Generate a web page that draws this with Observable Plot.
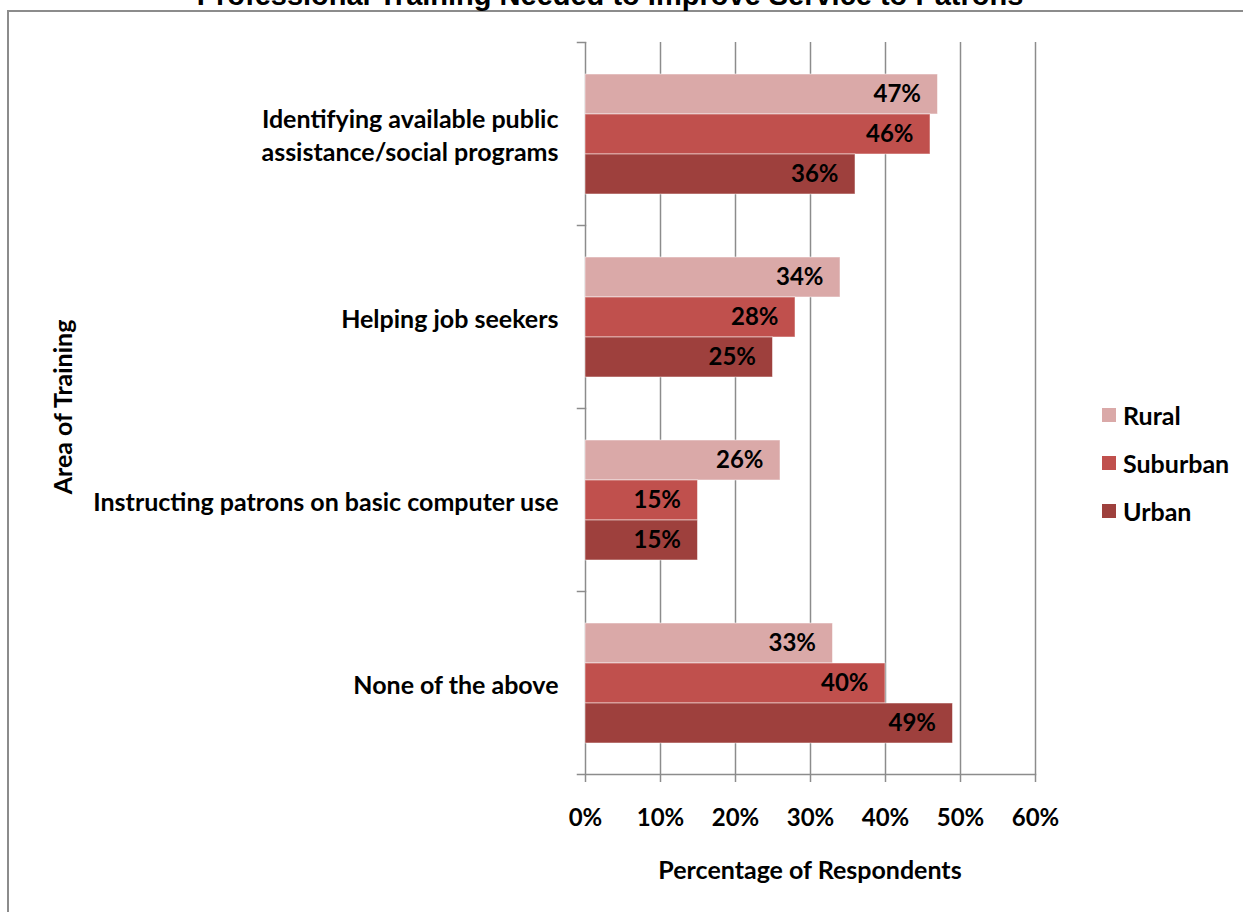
<!DOCTYPE html>
<html><head><meta charset="utf-8">
<script src="https://cdn.jsdelivr.net/npm/d3@7"></script>
<script src="https://cdn.jsdelivr.net/npm/@observablehq/plot@0.6"></script>
<style>
body{margin:0;background:#fff;}
#wrap{position:relative;width:1243px;height:912px;overflow:hidden;background:#fff;}
#frame{position:absolute;left:7px;top:10px;width:2000px;height:2000px;border-left:2px solid #8c8c8c;border-top:2px solid #8c8c8c;}
#title{position:absolute;left:0;width:1220px;top:-19px;text-align:center;font-family:"Liberation Sans",Arial,sans-serif;font-weight:bold;font-size:29px;line-height:29px;color:#000;white-space:nowrap;}
#chart{position:absolute;left:0;top:0;}
.lab{position:absolute;font-family:Lato,sans-serif;font-weight:bold;font-size:25px;color:#000;white-space:nowrap;}
#ytitle{left:62px;top:407px;transform:translate(-50%,-50%) rotate(-90deg);}
#xtitle{left:810px;top:869px;transform:translate(-50%,-50%);}
#legend{position:absolute;left:1102px;top:400px;font-family:Lato,sans-serif;font-weight:bold;font-size:25px;}
.li{position:absolute;left:0;height:30px;display:flex;align-items:center;white-space:nowrap;}
.sw{width:14px;height:14px;margin-right:7px;}
</style>
</head><body>
<div id="wrap">
  <div id="frame"></div>
  <div id="title"></div>
  <div id="chart"></div>
  <div class="lab" id="ytitle"></div>
  <div class="lab" id="xtitle"></div>
  <div id="legend"></div>
</div>
<script>
const titleText = "Professional Training Needed to Improve Service to Patrons";
const xTitle = "Percentage of Respondents";
const yTitle = "Area of Training";
const categories = [
  "Identifying available public\nassistance/social programs",
  "Helping job seekers",
  "Instructing patrons on basic computer use",
  "None of the above"
];
const series = ["Rural", "Suburban", "Urban"];
const rural = [47, 34, 26, 33];
const suburban = [46, 28, 15, 40];
const urban = [36, 25, 15, 49];
const xTicks = [0, 10, 20, 30, 40, 50, 60];
const colors = ["#daa9a8", "#c0504d", "#9e403d"];

const seriesValues = [rural, suburban, urban];
const data = categories.flatMap((c, i) => series.map((s, j) => ({category: c, series: s, value: seriesValues[j][i]})));

const font = "Lato, sans-serif";
const gray = "#8c8c8c";

const chart = Plot.plot({
  width: 1243,
  height: 912,
  marginLeft: 585,
  marginRight: 208,
  marginTop: 41,
  marginBottom: 138,
  style: {fontFamily: font, background: "transparent", overflow: "visible"},
  x: {domain: [0, 60], axis: null},
  y: {domain: series, paddingInner: 0, paddingOuter: 0.75, axis: null},
  fy: {domain: categories, padding: 0, axis: null},
  color: {domain: series, range: colors},
  marks: [
    Plot.gridX(xTicks, {stroke: gray, strokeOpacity: 1, strokeWidth: 1.5}),
    Plot.barX(data, {x: "value", y: "series", fy: "category", fill: "series", stroke: "#ffffff", strokeOpacity: 0.5, strokeWidth: 1}),
    Plot.text(data, {x: "value", y: "series", fy: "category", text: d => d.value + "%", textAnchor: "end", dx: -17, fontSize: 24, fontWeight: "bold", fill: "#000"}),
    Plot.text(categories, {fy: d => d, text: d => d, frameAnchor: "left", textAnchor: "end", dx: -27, lineHeight: 1.32, fontSize: 25, fontWeight: "bold", fill: "#000"}),
    Plot.frame({anchor: "top", stroke: gray, strokeWidth: 1.5, insetLeft: -8, insetRight: 450}),
    Plot.frame({anchor: "bottom", facetAnchor: "bottom", stroke: gray, strokeWidth: 1.5, insetLeft: -8}),
    Plot.axisX(xTicks, {anchor: "bottom", tickSize: 8, tickPadding: 26, stroke: gray, strokeWidth: 1.5, fill: "#000", tickFormat: d => d + "%", label: null, fontSize: 24, fontWeight: "bold"})
  ]
});
document.getElementById("chart").appendChild(chart);
document.getElementById("title").textContent = titleText;
document.getElementById("xtitle").textContent = xTitle;
document.getElementById("ytitle").textContent = yTitle;
const legend = document.getElementById("legend");
series.forEach((s, i) => {
  const row = document.createElement("div");
  row.className = "li";
  row.style.top = (i * 48) + "px";
  const sw = document.createElement("div");
  sw.className = "sw";
  sw.style.background = colors[i];
  const t = document.createElement("span");
  t.textContent = s;
  row.appendChild(sw); row.appendChild(t);
  legend.appendChild(row);
});
</script>
</body></html>
